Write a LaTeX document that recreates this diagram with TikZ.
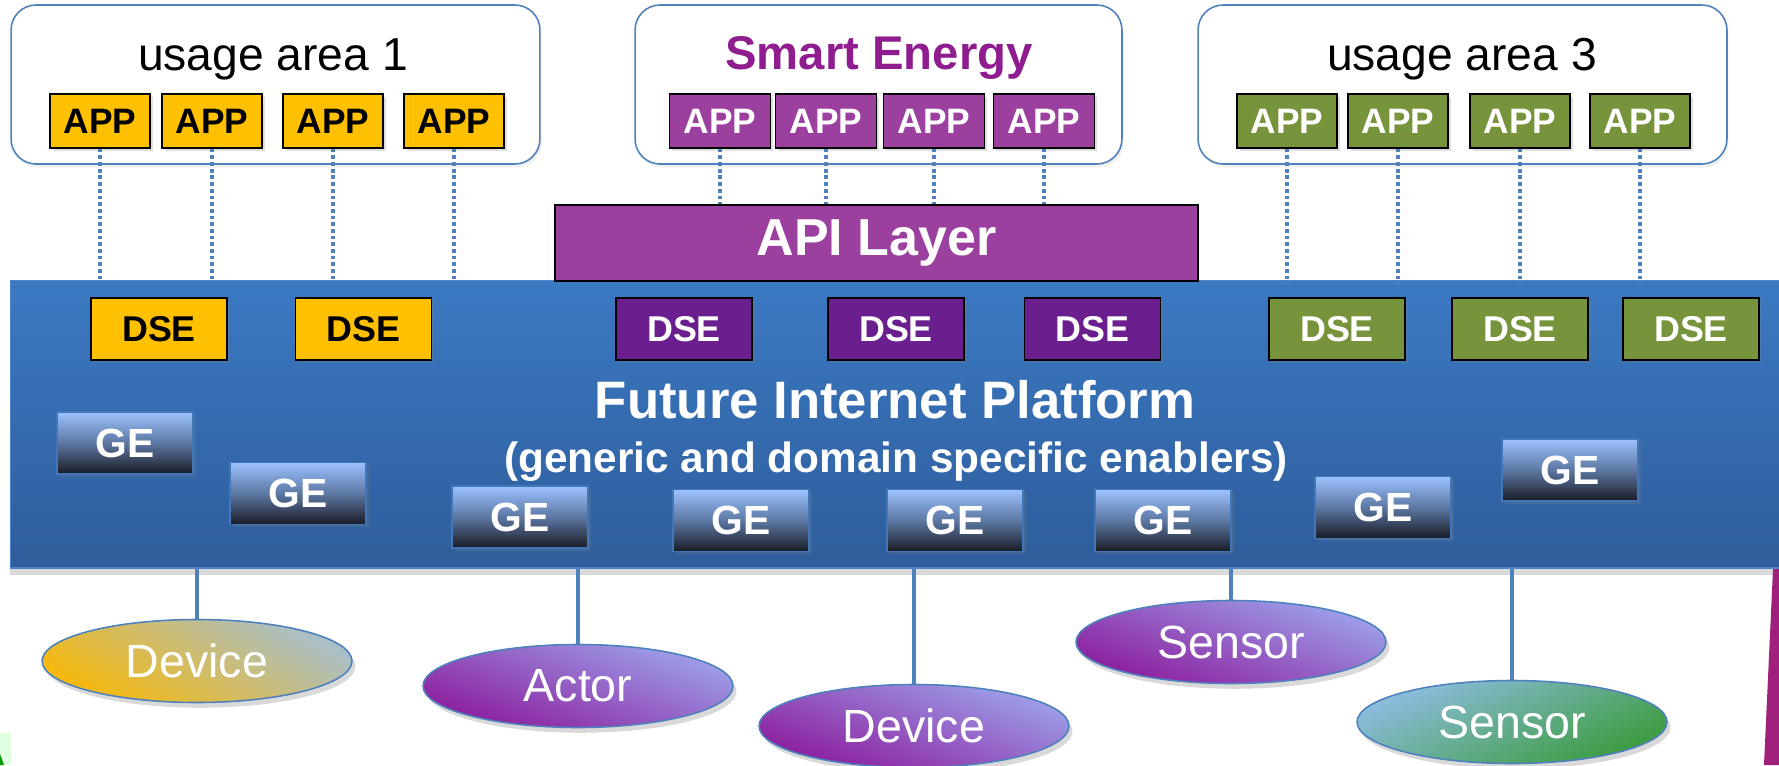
\documentclass[tikz,border=0pt]{standalone}
\usepackage{fontspec}
\setmainfont{Liberation Sans}
\usetikzlibrary{shapes.geometric,shadows}

\definecolor{gold}{HTML}{FFC000}
\definecolor{appviolet}{HTML}{9C40A0}
\definecolor{dseviolet}{HTML}{6B1E8E}
\definecolor{olive}{HTML}{77933C}
\definecolor{lineblue}{HTML}{4F81BD}
\definecolor{plattop}{HTML}{3B79C3}
\definecolor{platbot}{HTML}{2E5D9B}
\definecolor{energy}{HTML}{8F1D8F}
\definecolor{getop}{HTML}{9CC2FF}
\definecolor{gemid}{HTML}{5C77A2}
\definecolor{gebot}{HTML}{1A1B25}
\definecolor{geline}{HTML}{4177B8}
\definecolor{magstripe}{HTML}{9E1F7C}
\definecolor{lavender}{HTML}{9DA2EC}
\definecolor{plum}{HTML}{8C1C9C}
\definecolor{devgold}{HTML}{F6B90C}
\definecolor{devgray}{HTML}{A8BFCC}
\definecolor{senblue}{HTML}{8DBDE0}
\definecolor{sengreen}{HTML}{3B9B3D}

\tikzset{
	area/.style={draw=lineblue, line width=0.9pt, rounded corners=0.5cm, fill=white, minimum width=10.58cm, minimum height=3.18cm, drop shadow={opacity=0.12, shadow xshift=1pt, shadow yshift=-2pt}},
	areatitle/.style={anchor=base, font=\fontsize{26.3}{30}\selectfont},
	app/.style={draw=black, line width=0.9pt, minimum width=2cm, minimum height=1.08cm, inner sep=0pt, font=\fontsize{20.1}{22}\selectfont\bfseries, drop shadow={opacity=0.25, shadow xshift=1.5pt, shadow yshift=-1.5pt}},
	dse/.style={app, minimum width=2.72cm, minimum height=1.24cm, font=\fontsize{20.4}{22}\selectfont\bfseries},
	ge/.style={draw=geline, line width=0.9pt, minimum width=2.72cm, minimum height=1.24cm, inner sep=0pt, drop shadow={opacity=0.25, shadow xshift=1.5pt, shadow yshift=-1.5pt}, top color=getop, bottom color=gebot, middle color=gemid, text=white, font=\fontsize{23.2}{25}\selectfont\bfseries},
	thing/.style={ellipse, draw=lineblue, line width=0.9pt, minimum width=6.2cm, minimum height=1.66cm, inner sep=0pt, text=white, font=\fontsize{26.5}{28}\selectfont, drop shadow={opacity=0.3, shadow xshift=2pt, shadow yshift=-3pt}},
	purplething/.style={thing, top color=lavender, bottom color=plum, shading angle=-20},
	link/.style={lineblue, line width=1.8pt},
	dotlink/.style={lineblue, line width=2.6pt, dash pattern=on 2.1pt off 1.7pt},
}

\begin{document}
\begin{tikzpicture}[x=0.02cm,y=-0.02cm]
	\useasboundingbox (0,0) rectangle (1779,765);
	% platform and api layer
	\node[draw=plattop!90!white, line width=0.6pt, top color=plattop, bottom color=platbot, minimum width=35.8cm, minimum height=5.76cm, drop shadow={opacity=0.3, shadow xshift=0pt, shadow yshift=-4pt}] (plat) at (905,424) {};
	\node[anchor=base, text=white, font=\fontsize{30}{32}\selectfont\bfseries] (fip) at (895,418) {Future Internet Platform};
	\node[anchor=base, text=white, font=\fontsize{24.1}{26}\selectfont\bfseries] (fipsub) at (896,472) {(generic and domain specific enablers)};
	\node[draw=black, line width=0.9pt, fill=appviolet, minimum width=12.86cm, minimum height=1.52cm, text=white, font=\fontsize{29.6}{31}\selectfont\bfseries] (api) at (876.5,243) {API Layer};
	% usage areas
	\node[area] (ua1) at (275.5,84.5) {};
	\node[area, minimum width=9.74cm] (ua2) at (878.5,84.5) {};
	\node[area] (ua3) at (1462.5,84.5) {};
	\node[areatitle] (t1) at (273,70) {usage area 1};
	\node[areatitle, text=energy, font=\fontsize{26.9}{30}\selectfont\bfseries] (t2) at (879,69) {Smart Energy};
	\node[areatitle] (t3) at (1462,70) {usage area 3};
	% apps
	\foreach \x [count=\i] in {100,212,333,454} {
		\node[app, fill=gold] (appA\i) at (\x,121) {APP};
		\draw[dotlink] (appA\i.south) -- (appA\i |- plat.north);
	}
	\foreach \x [count=\i] in {720,826,934,1044} {
		\node[app, fill=appviolet, text=white, minimum width=2.02cm] (appB\i) at (\x,121) {APP};
		\draw[dotlink] (appB\i.south) -- (appB\i |- api.north);
	}
	\foreach \x [count=\i] in {1287,1398,1520,1640} {
		\node[app, fill=olive, text=white] (appC\i) at (\x,121) {APP};
		\draw[dotlink] (appC\i.south) -- ([yshift=-0.08cm]appC\i |- plat.north);
	}
	% domain specific enablers
	\foreach \x [count=\i] in {159,363.5} \node[dse, fill=gold] (dseA\i) at (\x,329) {DSE};
	\foreach \x [count=\i] in {684,896,1092.5} \node[dse, fill=dseviolet, text=white] (dseB\i) at (\x,329) {DSE};
	\foreach \x [count=\i] in {1337,1520,1691} \node[dse, fill=olive, text=white] (dseC\i) at (\x,329) {DSE};
	% generic enablers
	\foreach \x/\y [count=\i] in {125/443, 298/493.5, 520/517, 741/520.5, 955/520.5, 1163/520.5, 1383/507.5, 1570/470}
		\node[ge] (ge\i) at (\x,\y) {GE};
	% devices, actors, sensors
	\node[thing, top color=devgray, bottom color=devgold, shading angle=-30] (dev1) at (197,661) {Device};
	\node[purplething] (actor) at (578,686) {Actor};
	\node[purplething] (dev2) at (914,726) {Device};
	\node[purplething] (sens1) at (1231,642) {Sensor};
	\node[thing, top color=senblue, bottom color=sengreen, shading angle=25] (sens2) at (1512,722) {Sensor};
	\foreach \n in {dev1,actor,dev2,sens1,sens2}
		\draw[link] (\n |- plat.south) -- (\n.north);
	% cut off shapes at the border
	\fill[magstripe] (1773,569) -- (1779,569) -- (1779,765) -- (1764,765) -- cycle;
	\fill[green!12!white] (0,733) rectangle (11,765);
	\fill[green!60!black] (0,754) -- (4,765) -- (0,765) -- cycle;
\end{tikzpicture}
\end{document}
